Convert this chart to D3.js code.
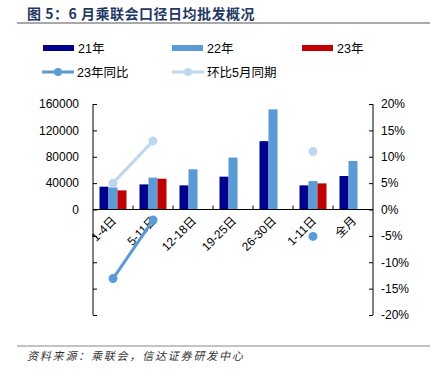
<!DOCTYPE html>
<html>
<head>
<meta charset="utf-8">
<script src="https://cdn.jsdelivr.net/npm/d3@7"></script>
<style>
  body { margin: 0; background: #fff; }
  svg text { font-family: "Liberation Sans", Arial, "Noto Sans CJK SC", sans-serif; }
  .axis path, .axis line { stroke: #000; }
  .axis text { font-size: 12px; fill: #000; }
</style>
</head>
<body>
<svg id="chart"></svg>
<script>
const categories = ['1-4日', '5-11日', '12-18日', '19-25日', '26-30日', '1-11日', '全月'];
const sales21 = [34600, 38100, 36600, 49800, 103600, 36600, 50800];
const sales22 = [33500, 48300, 61000, 78800, 151900, 43100, 73600];
const sales23 = [29000, 46700, null, null, null, 39600, null];
const yoy23 = [-13.1, -2.0, null, null, null, -5.1, null];
const momMay = [5.0, 13.0, null, null, null, 11.0, null];
const leftTicks = [0, 40000, 80000, 120000, 160000];
const rightTicks = [-20, -15, -10, -5, 0, 5, 10, 15, 20];

const colors = {c21: '#00008F', c22: '#5B9BD5', c23: '#C00000', yoy: '#5B9BD5', mom: '#BDD7EE'};

const width = 436, height = 376;
const margin = {top: 104, left: 93, right: 63, bottom: 61};
const w = width - margin.left - margin.right;
const h = height - margin.top - margin.bottom;

const svg = d3.select('#chart').attr('width', width).attr('height', height);

// title
svg.append('text')
  .attr('x', 27).attr('y', 19)
  .attr('font-size', 14).attr('font-weight', 'bold')
  .attr('fill', '#1F3864')
  .attr('letter-spacing', 0.5)
  .style('font-family', '"Noto Sans CJK SC", sans-serif')
  .text('图 5：6 月乘联会口径日均批发概况');
svg.append('line').attr('x1', 17).attr('x2', 430).attr('y1', 23).attr('y2', 23)
  .attr('stroke', '#555').attr('stroke-width', 1.2);

// footer
svg.append('line').attr('x1', 17).attr('x2', 430).attr('y1', 346).attr('y2', 346)
  .attr('stroke', '#888').attr('stroke-width', 1);
svg.append('text')
  .attr('x', 27).attr('y', 360)
  .attr('font-size', 11).attr('font-style', 'italic')
  .attr('letter-spacing', 1.8)
  .attr('fill', '#333')
  .style('font-family', '"Noto Sans CJK SC", sans-serif')
  .text('资料来源：乘联会，信达证券研发中心');

const chart = svg.append('g').attr('transform', `translate(${margin.left},${margin.top})`);

const x = d3.scaleBand().domain(categories).range([0, w]);
const yL = d3.scaleLinear().domain([-160000, 160000]).range([h, 0]);
const yR = d3.scaleLinear().domain([-20, 20]).range([h, 0]);

const inner = d3.scaleBand().domain(['c21', 'c22', 'c23']).range([6.5, x.bandwidth() - 6.5]);

// bars
const seriesList = [
  {key: 'c21', values: sales21},
  {key: 'c22', values: sales22},
  {key: 'c23', values: sales23}
];
seriesList.forEach(s => {
  chart.selectAll('.bar-' + s.key)
    .data(categories.map((c, i) => ({c, v: s.values[i]})).filter(d => d.v != null))
    .join('rect')
      .attr('class', 'bar-' + s.key)
      .attr('x', d => x(d.c) + inner(s.key))
      .attr('width', inner.bandwidth())
      .attr('y', d => yL(d.v))
      .attr('height', d => yL(0) - yL(d.v))
      .attr('fill', colors[s.key]);
});

// left axis
const leftAxis = chart.append('g').attr('class', 'axis')
  .call(d3.axisLeft(yL).tickValues(d3.range(-160000, 160001, 40000)).tickSize(4).tickSizeOuter(0)
    .tickFormat(d => leftTicks.includes(d) ? d : ''));
leftAxis.selectAll('.tick line').attr('x2', 4);
leftAxis.select('.domain').attr('d', `M0,0V${h}`);
leftAxis.selectAll('text').attr('x', -14);

// right axis
const rightAxis = chart.append('g').attr('class', 'axis')
  .attr('transform', `translate(${w},0)`)
  .call(d3.axisRight(yR).tickValues(rightTicks).tickSize(4).tickSizeOuter(0).tickFormat(d => d + '%'));
rightAxis.selectAll('.tick line').attr('x1', -4).attr('x2', 0);
rightAxis.select('.domain').attr('d', `M0,0V${h}`);
rightAxis.selectAll('text').attr('x', 8);

// x axis at zero
const xAxis = chart.append('g').attr('class', 'axis')
  .attr('transform', `translate(0,${yL(0)})`);
xAxis.append('line').attr('x1', 0).attr('x2', w).attr('stroke', '#000');
xAxis.selectAll('.xt')
  .data(categories.slice(1))
  .join('line')
    .attr('class', 'xt')
    .attr('x1', d => x(d)).attr('x2', d => x(d))
    .attr('y1', 0).attr('y2', -4).attr('stroke', '#000');
xAxis.selectAll('.xl')
  .data(categories)
  .join('text')
    .attr('class', 'xl')
    .attr('text-anchor', 'end')
    .attr('font-size', 12)
    .attr('transform', d => `translate(${x(d) + x.bandwidth() / 2 + 4},${12}) rotate(-45)`)
    .text(d => d);

// lines
function drawLine(vals, color) {
  const pts = categories.map((c, i) => ({c, v: vals[i]}));
  const line = d3.line()
    .defined(d => d.v != null)
    .x(d => x(d.c) + x.bandwidth() / 2)
    .y(d => yR(d.v));
  chart.append('path').datum(pts)
    .attr('d', line).attr('fill', 'none')
    .attr('stroke', color).attr('stroke-width', 3);
  chart.selectAll(null)
    .data(pts.filter(d => d.v != null))
    .join('circle')
      .attr('cx', d => x(d.c) + x.bandwidth() / 2)
      .attr('cy', d => yR(d.v))
      .attr('r', 4.5)
      .attr('fill', color);
}
drawLine(momMay, colors.mom);
drawLine(yoy23, colors.yoy);

// legend
const legendItems = [
  {label: '21年', type: 'bar', color: colors.c21, x: 43, y: 48},
  {label: '22年', type: 'bar', color: colors.c22, x: 172, y: 48},
  {label: '23年', type: 'bar', color: colors.c23, x: 302, y: 48},
  {label: '23年同比', type: 'line', color: colors.yoy, x: 42, y: 72},
  {label: '环比5月同期', type: 'line', color: colors.mom, x: 172, y: 72}
];
const lg = svg.append('g');
legendItems.forEach(d => {
  const g = lg.append('g').attr('transform', `translate(${d.x},${d.y})`);
  if (d.type === 'bar') {
    g.append('rect').attr('x', 0).attr('y', -3).attr('width', 31).attr('height', 6).attr('fill', d.color);
  } else {
    g.append('line').attr('x1', 0).attr('x2', 32).attr('stroke', d.color).attr('stroke-width', 3);
    g.append('circle').attr('cx', 16).attr('r', 4).attr('fill', d.color);
  }
  g.append('text').attr('x', 35).attr('y', 4.5).attr('font-size', 12.5).attr('fill', '#000').text(d.label);
});
</script>
</body>
</html>
